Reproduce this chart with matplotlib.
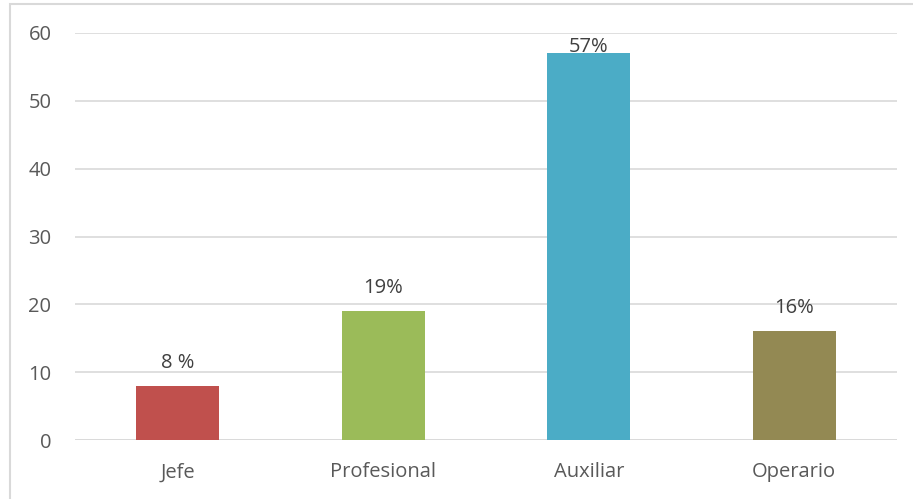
import matplotlib.pyplot as plt
from matplotlib.patches import Rectangle

categories = ["Jefe", "Profesional", "Auxiliar", "Operario"]
values = [8, 19, 57, 16]
labels = ["8 %", "19%", "57%", "16%"]
colors = ["#C0504D", "#9BBB59", "#4BACC6", "#938953"]

plt.rcParams['font.family'] = ['Open Sans', 'DejaVu Sans']

W, H = 913, 499
fig = plt.figure(figsize=(W / 100, H / 100), dpi=100)
ax = fig.add_axes([75 / W, 1 - 440 / H, 822 / W, (440 - 33) / H])

x = range(len(categories))
ax.bar(x, values, width=0.405, color=colors, zorder=3)

ax.set_ylim(0, 60)
ax.set_xlim(-0.5, len(categories) - 0.5)
ax.set_yticks(range(0, 61, 10))
ax.set_xticks(list(x))
ax.set_xticklabels(categories)
ax.grid(axis='y', color='#D9D9D9', linewidth=1.2, zorder=0)
ax.tick_params(axis='both', length=0, labelsize=14.5, labelcolor='#595959')
ax.tick_params(axis='x', pad=16)
ax.tick_params(axis='y', pad=17)
for s in ax.spines.values():
    s.set_visible(False)
ax.axhline(0, color='#D9D9D9', linewidth=1.2, zorder=2)

# data labels above bars (the tallest one is pushed down onto the bar, like Excel)
for xi, v, lab in zip(x, values, labels):
    off = 13 if v + 4 < 60 else -4
    ax.annotate(lab, (xi, v), xytext=(0, off), textcoords='offset pixels',
                ha='center', va='bottom', fontsize=14.5, color='#404040', zorder=4)

# chart border
fig.patches.append(Rectangle((10 / W, -0.1), 1.2, 1 - 4 / H + 0.1, transform=fig.transFigure,
                             fill=False, edgecolor='#D9D9D9', linewidth=1.5))

fig.savefig("out.png", dpi=100, facecolor='white')
